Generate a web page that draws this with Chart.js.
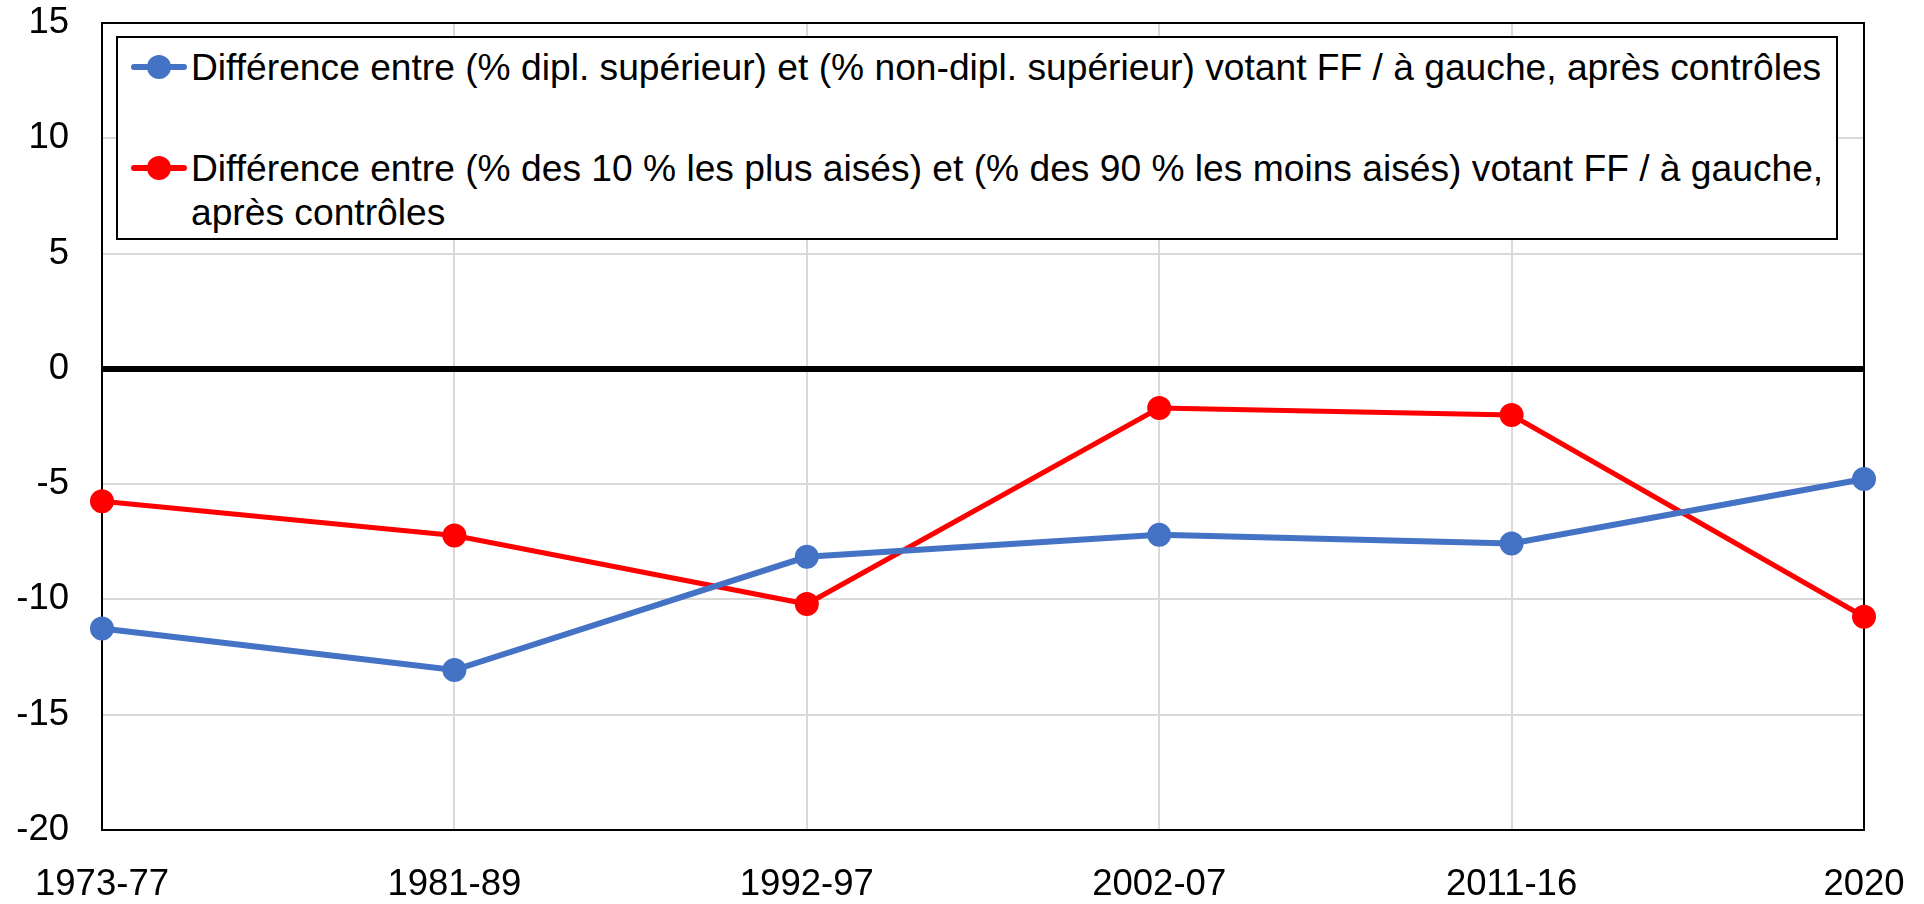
<!DOCTYPE html>
<html>
<head>
<meta charset="utf-8">
<script src="https://cdn.jsdelivr.net/npm/chart.js@4.4.1/dist/chart.umd.min.js"></script>
<style>
html,body{margin:0;padding:0;background:#fff;}
#wrap{position:relative;width:1924px;height:904px;}
#legend{position:absolute;box-sizing:border-box;border:2px solid #000;background:#fff;
  font-family:"Liberation Sans",Arial,sans-serif;font-size:37.2px;line-height:44px;color:#000;
  padding:7px 2px 0 13px;}
.item{display:flex;align-items:flex-start;}
.item + .item{margin-top:57px;}
.sym{position:relative;flex:0 0 56px;height:44px;margin-right:4px;}
.sym .ln{position:absolute;left:0;right:0;top:19px;height:6px;border-radius:3px;}
.sym .pt{position:absolute;left:16px;top:10px;width:24px;height:24px;border-radius:50%;}
.txt{flex:1 1 auto;}
</style>
</head>
<body>
<div id="wrap">
  <canvas id="c" width="1924" height="904"></canvas>
  <div id="legend"></div>
</div>
<script>
// ---- data ----
const categories = ['1973-77', '1981-89', '1992-97', '2002-07', '2011-16', '2020'];
const diplomaGap = [-11.26, -13.06, -8.15, -7.2, -7.57, -4.78];
const incomeGap = [-5.74, -7.23, -10.2, -1.7, -2.0, -10.75];
const seriesLabels = [
  'Différence entre (% dipl. supérieur) et (% non-dipl. supérieur) votant FF / à gauche, après contrôles',
  'Différence entre (% des 10 % les plus aisés) et (% des 90 % les moins aisés) votant FF / à gauche, après contrôles'
];
const yMin = -20, yMax = 15, yStep = 5;

const FONT = '"Liberation Sans", Arial, sans-serif';

const framePlugin = {
  id: 'frame',
  beforeDatasetsDraw(chart) {
    const a = chart.chartArea, ctx = chart.ctx;
    ctx.save();
    ctx.strokeStyle = '#000';
    ctx.lineWidth = 2;
    ctx.strokeRect(a.left, a.top, a.right - a.left, a.bottom - a.top);
    ctx.restore();
  }
};

const chart = new Chart(document.getElementById('c'), {
  type: 'line',
  data: {
    labels: categories,
    datasets: [
      { label: seriesLabels[0], data: diplomaGap, borderColor: '#4472C4', backgroundColor: '#4472C4',
        pointBackgroundColor: '#4472C4', pointBorderColor: '#4472C4', borderWidth: 6,
        pointRadius: 11, pointBorderWidth: 2, tension: 0, clip: false },
      { label: seriesLabels[1], data: incomeGap, borderColor: '#FF0000', backgroundColor: '#FF0000',
        pointBackgroundColor: '#FF0000', pointBorderColor: '#FF0000', borderWidth: 5,
        pointRadius: 11, pointBorderWidth: 2, tension: 0, clip: false }
    ]
  },
  options: {
    responsive: false,
    animation: false,
    devicePixelRatio: 1,
    layout: { padding: { left: 0, top: 23, right: 60, bottom: 0 } },
    plugins: { legend: { display: false }, tooltip: { enabled: false } },
    scales: {
      x: {
        type: 'category',
        offset: false,
        border: { display: false },
        grid: { color: '#d9d9d9', lineWidth: 2, drawTicks: false, offset: false },
        ticks: { color: '#000', font: { family: FONT, size: 36.5 }, padding: 33, maxRotation: 0, autoSkip: false },
        afterFit(scale) { scale.height = 74; scale.paddingLeft = 0; scale.paddingRight = 0; }
      },
      y: {
        min: yMin, max: yMax,
        border: { display: false },
        grid: {
          drawTicks: false,
          color: (c) => (c.tick && c.tick.value === 0) ? '#000' : '#d9d9d9',
          lineWidth: (c) => (c.tick && c.tick.value === 0) ? 6 : 2
        },
        ticks: { stepSize: yStep, color: '#000', font: { family: FONT, size: 36.5 }, padding: 33 },
        afterFit(scale) { scale.width = 102; scale.paddingTop = 0; scale.paddingBottom = 0; }
      }
    }
  },
  plugins: [framePlugin]
});

// ---- HTML legend built from the chart's datasets ----
(function buildLegend() {
  const a = chart.chartArea;
  const box = document.getElementById('legend');
  box.style.left = (a.left + 14) + 'px';
  box.style.top = (a.top + 13) + 'px';
  box.style.width = (a.right - 26 - (a.left + 14)) + 'px';
  box.style.height = '204px';
  chart.data.datasets.forEach(ds => {
    const item = document.createElement('div');
    item.className = 'item';
    const sym = document.createElement('span');
    sym.className = 'sym';
    const ln = document.createElement('span'); ln.className = 'ln'; ln.style.background = ds.borderColor;
    const pt = document.createElement('span'); pt.className = 'pt'; pt.style.background = ds.pointBackgroundColor;
    sym.appendChild(ln); sym.appendChild(pt);
    const txt = document.createElement('span');
    txt.className = 'txt';
    txt.textContent = ds.label;
    item.appendChild(sym); item.appendChild(txt);
    box.appendChild(item);
  });
})();
</script>
</body>
</html>
